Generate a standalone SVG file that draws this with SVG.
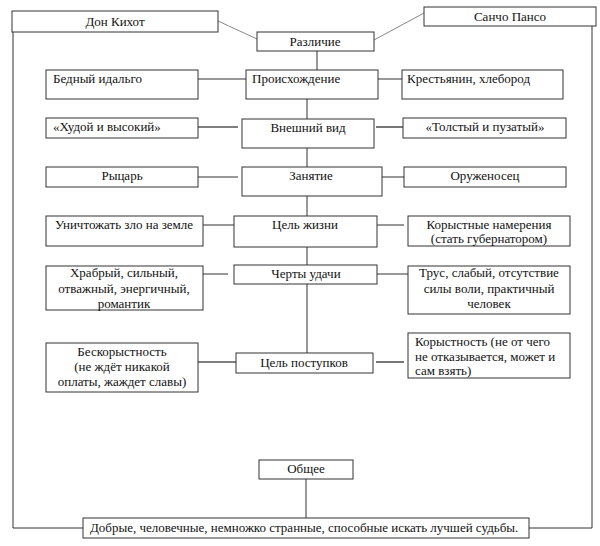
<svg xmlns="http://www.w3.org/2000/svg" width="600" height="546" viewBox="0 0 600 546">
<style>
rect{fill:#fff;stroke:#333;stroke-width:1}
text{font-family:"Liberation Serif","Times New Roman",serif;font-size:13px;fill:#111}
.c{text-anchor:middle}
.ln line,.ln polyline{stroke:#333;stroke-width:1;fill:none}
.ln .g{stroke:#888}
.ln .t{stroke:#555;stroke-width:1.6}
</style>
<rect x="0" y="0" width="600" height="546" style="fill:#fff;stroke:none"/>
<g id="connectors" class="ln">
<line class="g" x1="218" y1="21" x2="257" y2="39"/>
<line class="g" x1="374" y1="40" x2="424" y2="13"/>
<polyline points="13,32 13,528 83,528"/>
<polyline points="592,26 592,528 529,528"/>
<line x1="317" y1="51" x2="317" y2="70"/>
<line x1="307" y1="99" x2="307" y2="119"/>
<line x1="307" y1="148" x2="307" y2="167"/>
<line x1="307" y1="196" x2="307" y2="216"/>
<line x1="307" y1="247" x2="307" y2="265"/>
<line x1="307" y1="284" x2="307" y2="353"/>
<line x1="306" y1="479" x2="306" y2="518"/>
<line x1="198" y1="79" x2="246" y2="79"/>
<line x1="378" y1="79" x2="402" y2="79"/>
<line class="t" x1="198" y1="127" x2="238" y2="127"/>
<line class="t" x1="376" y1="127" x2="403" y2="127"/>
<line x1="198" y1="177" x2="238" y2="177"/>
<line x1="376" y1="177" x2="404" y2="177"/>
<line x1="199" y1="225" x2="238" y2="225"/>
<line x1="376" y1="225" x2="404" y2="225"/>
<line x1="199" y1="274" x2="228" y2="274"/>
<line x1="376" y1="274" x2="408" y2="274"/>
<line class="t" x1="198" y1="362" x2="237" y2="362"/>
<line class="t" x1="376" y1="362" x2="404" y2="362"/>
</g>
<g id="don"><rect x="12" y="11" width="206" height="21"/><text class="c" x="115" y="26">Дон Кихот</text></g>
<g id="sancho"><rect x="424" y="7" width="172" height="19"/><text class="c" x="510" y="21">Санчо Пансо</text></g>
<g id="diff"><rect x="257" y="32" width="117" height="19"/><text class="c" x="315" y="46">Различие</text></g>
<g id="origin"><rect x="246" y="70" width="132" height="29"/><text x="252" y="83">Происхождение</text></g>
<g id="look"><rect x="242" y="119" width="132" height="29"/><text class="c" x="308" y="132">Внешний вид</text></g>
<g id="job"><rect x="242" y="167" width="140" height="29"/><text class="c" x="311" y="180">Занятие</text></g>
<g id="goal"><rect x="234" y="216" width="143" height="31"/><text class="c" x="305" y="229">Цель жизни</text></g>
<g id="traits"><rect x="234" y="265" width="143" height="19"/><text class="c" x="306" y="278">Черты удачи</text></g>
<g id="deeds"><rect x="236" y="353" width="137" height="20"/><text class="c" x="304" y="367">Цель поступков</text></g>
<g id="common"><rect x="259" y="460" width="94" height="19"/><text class="c" x="306" y="473">Общее</text></g>
<g id="bottom"><rect x="83" y="518" width="446" height="20"/><text x="90" y="532">Добрые, человечные, немножко странные, способные искать лучшей судьбы.</text></g>
<g id="l1"><rect x="46" y="70" width="152" height="29"/><text x="53" y="83">Бедный идальго</text></g>
<g id="r1"><rect x="402" y="70" width="161" height="29"/><text x="407" y="83">Крестьянин, хлебород</text></g>
<g id="l2"><rect x="46" y="118" width="152" height="20"/><text x="53" y="131">«Худой и высокий»</text></g>
<g id="r2"><rect x="403" y="118" width="163" height="20"/><text class="c" x="485" y="131">«Толстый и пузатый»</text></g>
<g id="l3"><rect x="46" y="167" width="152" height="20"/><text class="c" x="122" y="180">Рыцарь</text></g>
<g id="r3"><rect x="404" y="167" width="162" height="20"/><text class="c" x="485" y="180">Оруженосец</text></g>
<g id="l4"><rect x="46" y="216" width="157" height="30"/><text class="c" x="124" y="229">Уничтожать зло на земле</text></g>
<g id="r4"><rect x="408" y="216" width="162" height="30"/><text class="c" x="489" y="229">Корыстные намерения</text><text class="c" x="489" y="243">(стать губернатором)</text></g>
<g id="l5"><rect x="46" y="266" width="157" height="44"/><text class="c" x="124" y="277">Храбрый, сильный,</text><text class="c" x="124" y="293">отважный, энергичный,</text><text class="c" x="124" y="308">романтик</text></g>
<g id="r5"><rect x="408" y="266" width="162" height="48"/><text class="c" x="489" y="277">Трус, слабый, отсутствие</text><text class="c" x="489" y="293">силы воли, практичный</text><text class="c" x="489" y="308">человек</text></g>
<g id="l6"><rect x="46" y="343" width="152" height="49"/><text class="c" x="122" y="356">Бескорыстность</text><text class="c" x="122" y="371">(не ждёт никакой</text><text class="c" x="122" y="386">оплаты, жаждет славы)</text></g>
<g id="r6"><rect x="408" y="333" width="162" height="45"/><text x="415" y="346">Корыстность (не от чего</text><text x="415" y="361">не отказывается, может и</text><text x="415" y="375">сам взять)</text></g>
</svg>
